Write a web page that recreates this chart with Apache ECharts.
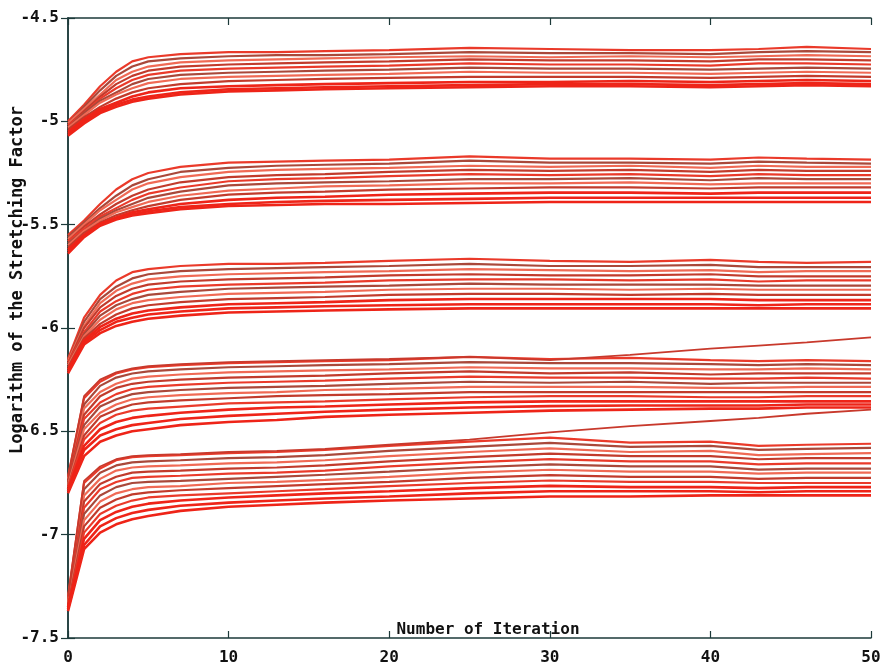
<!DOCTYPE html>
<html>
<head>
<meta charset="utf-8">
<title>Logarithm of the Stretching Factor</title>
<script src="https://cdn.jsdelivr.net/npm/echarts@6/dist/echarts.min.js"></script>
<style>
  html, body { margin: 0; padding: 0; background: #ffffff; }
  #chart { width: 888px; height: 670px; }
</style>
</head>
<body>
<div id="chart"></div>
<script>
// Iteration numbers at which each run was sampled
const iterations = [0, 1, 2, 3, 4, 5, 7, 10, 13, 16, 20, 25, 30, 35, 40, 43, 46, 50];

// Axis ticks
const xTicks = [0, 10, 20, 30, 40, 50];
const yTicks = [-7.5, -7, -6.5, -6, -5.5, -5, -4.5];

// Group 1 (top band)
const group1 = [
  [-5.00,-4.92,-4.83,-4.76,-4.71,-4.69,-4.675,-4.665,-4.665,-4.66,-4.655,-4.645,-4.65,-4.655,-4.655,-4.65,-4.64,-4.65],
  [-5.01,-4.93,-4.85,-4.78,-4.735,-4.71,-4.695,-4.685,-4.68,-4.68,-4.675,-4.665,-4.67,-4.67,-4.675,-4.665,-4.66,-4.665],
  [-5.01,-4.94,-4.87,-4.80,-4.76,-4.735,-4.715,-4.705,-4.70,-4.695,-4.69,-4.685,-4.69,-4.685,-4.69,-4.685,-4.68,-4.685],
  [-5.02,-4.95,-4.88,-4.82,-4.78,-4.755,-4.735,-4.725,-4.72,-4.715,-4.71,-4.70,-4.705,-4.705,-4.71,-4.70,-4.70,-4.705],
  [-5.02,-4.96,-4.89,-4.84,-4.80,-4.775,-4.755,-4.745,-4.74,-4.735,-4.73,-4.72,-4.725,-4.725,-4.73,-4.72,-4.72,-4.725],
  [-5.03,-4.96,-4.90,-4.86,-4.82,-4.795,-4.775,-4.765,-4.76,-4.755,-4.75,-4.74,-4.745,-4.745,-4.75,-4.745,-4.74,-4.745],
  [-5.03,-4.97,-4.91,-4.87,-4.84,-4.815,-4.795,-4.785,-4.78,-4.775,-4.77,-4.76,-4.765,-4.765,-4.77,-4.765,-4.76,-4.765],
  [-5.04,-4.98,-4.93,-4.89,-4.86,-4.84,-4.82,-4.805,-4.80,-4.795,-4.79,-4.785,-4.785,-4.785,-4.79,-4.785,-4.78,-4.785],
  [-5.05,-4.99,-4.94,-4.91,-4.88,-4.86,-4.84,-4.83,-4.825,-4.82,-4.815,-4.81,-4.81,-4.805,-4.81,-4.805,-4.80,-4.805],
  [-5.06,-5.00,-4.95,-4.92,-4.895,-4.88,-4.86,-4.845,-4.84,-4.835,-4.83,-4.825,-4.82,-4.82,-4.825,-4.82,-4.815,-4.82],
  [-5.07,-5.01,-4.96,-4.93,-4.905,-4.89,-4.87,-4.855,-4.85,-4.845,-4.84,-4.835,-4.83,-4.83,-4.835,-4.83,-4.825,-4.83]
];

// Group 2
const group2 = [
  [-5.55,-5.48,-5.40,-5.33,-5.28,-5.25,-5.22,-5.20,-5.195,-5.19,-5.185,-5.17,-5.18,-5.18,-5.185,-5.175,-5.18,-5.185],
  [-5.56,-5.49,-5.42,-5.36,-5.31,-5.28,-5.245,-5.225,-5.215,-5.21,-5.205,-5.19,-5.20,-5.20,-5.205,-5.195,-5.20,-5.205],
  [-5.57,-5.50,-5.43,-5.38,-5.33,-5.30,-5.27,-5.245,-5.235,-5.23,-5.225,-5.215,-5.22,-5.215,-5.225,-5.215,-5.22,-5.22],
  [-5.58,-5.51,-5.45,-5.40,-5.36,-5.33,-5.295,-5.27,-5.26,-5.255,-5.245,-5.235,-5.24,-5.235,-5.245,-5.235,-5.24,-5.24],
  [-5.58,-5.52,-5.46,-5.42,-5.38,-5.35,-5.32,-5.29,-5.28,-5.275,-5.265,-5.255,-5.26,-5.255,-5.265,-5.255,-5.26,-5.26],
  [-5.59,-5.53,-5.47,-5.43,-5.40,-5.37,-5.34,-5.31,-5.30,-5.295,-5.29,-5.28,-5.28,-5.275,-5.285,-5.275,-5.28,-5.28],
  [-5.60,-5.53,-5.48,-5.44,-5.415,-5.39,-5.36,-5.335,-5.325,-5.315,-5.31,-5.30,-5.30,-5.295,-5.305,-5.30,-5.30,-5.30],
  [-5.61,-5.54,-5.49,-5.455,-5.43,-5.41,-5.38,-5.355,-5.345,-5.34,-5.33,-5.325,-5.32,-5.32,-5.325,-5.32,-5.32,-5.32],
  [-5.62,-5.55,-5.495,-5.465,-5.44,-5.425,-5.40,-5.38,-5.37,-5.365,-5.355,-5.35,-5.345,-5.345,-5.35,-5.345,-5.345,-5.345],
  [-5.63,-5.555,-5.50,-5.47,-5.45,-5.435,-5.415,-5.40,-5.39,-5.385,-5.38,-5.375,-5.37,-5.37,-5.37,-5.37,-5.37,-5.37],
  [-5.64,-5.56,-5.505,-5.475,-5.455,-5.445,-5.425,-5.41,-5.405,-5.40,-5.40,-5.395,-5.39,-5.39,-5.39,-5.39,-5.39,-5.39]
];

// Group 3
const group3 = [
  [-6.15,-5.95,-5.84,-5.77,-5.73,-5.715,-5.70,-5.69,-5.69,-5.685,-5.675,-5.665,-5.675,-5.68,-5.67,-5.68,-5.685,-5.68],
  [-6.16,-5.97,-5.86,-5.80,-5.76,-5.74,-5.725,-5.715,-5.71,-5.705,-5.70,-5.69,-5.70,-5.70,-5.695,-5.705,-5.705,-5.705],
  [-6.16,-5.99,-5.88,-5.82,-5.785,-5.765,-5.75,-5.74,-5.735,-5.73,-5.725,-5.715,-5.72,-5.725,-5.72,-5.73,-5.725,-5.725],
  [-6.17,-6.00,-5.90,-5.845,-5.81,-5.79,-5.775,-5.765,-5.76,-5.755,-5.745,-5.74,-5.745,-5.745,-5.74,-5.75,-5.75,-5.75],
  [-6.17,-6.02,-5.92,-5.87,-5.835,-5.815,-5.80,-5.79,-5.785,-5.78,-5.77,-5.765,-5.765,-5.77,-5.765,-5.775,-5.77,-5.77],
  [-6.18,-6.03,-5.94,-5.89,-5.86,-5.84,-5.825,-5.81,-5.805,-5.80,-5.795,-5.785,-5.79,-5.79,-5.79,-5.795,-5.795,-5.795],
  [-6.18,-6.04,-5.96,-5.91,-5.88,-5.865,-5.85,-5.835,-5.83,-5.825,-5.815,-5.81,-5.81,-5.815,-5.81,-5.815,-5.815,-5.815],
  [-6.19,-6.05,-5.98,-5.935,-5.905,-5.89,-5.875,-5.86,-5.855,-5.85,-5.84,-5.835,-5.835,-5.84,-5.835,-5.84,-5.84,-5.84],
  [-6.20,-6.06,-5.995,-5.955,-5.93,-5.915,-5.90,-5.885,-5.88,-5.875,-5.865,-5.86,-5.86,-5.86,-5.86,-5.865,-5.865,-5.865],
  [-6.21,-6.07,-6.01,-5.97,-5.95,-5.935,-5.92,-5.905,-5.90,-5.895,-5.89,-5.885,-5.885,-5.885,-5.885,-5.89,-5.885,-5.885],
  [-6.22,-6.08,-6.025,-5.99,-5.97,-5.955,-5.94,-5.925,-5.92,-5.915,-5.91,-5.905,-5.905,-5.905,-5.905,-5.905,-5.905,-5.905]
];

// Group 4
const group4 = [
  [-6.72,-6.34,-6.26,-6.22,-6.20,-6.19,-6.18,-6.17,-6.165,-6.16,-6.155,-6.14,-6.15,-6.145,-6.155,-6.16,-6.155,-6.16],
  [-6.73,-6.37,-6.28,-6.24,-6.22,-6.21,-6.20,-6.19,-6.185,-6.18,-6.175,-6.165,-6.17,-6.17,-6.175,-6.18,-6.175,-6.18],
  [-6.73,-6.39,-6.31,-6.27,-6.245,-6.235,-6.225,-6.215,-6.21,-6.205,-6.20,-6.19,-6.195,-6.195,-6.20,-6.20,-6.195,-6.20],
  [-6.74,-6.42,-6.33,-6.29,-6.27,-6.26,-6.25,-6.24,-6.235,-6.23,-6.22,-6.21,-6.22,-6.215,-6.225,-6.22,-6.22,-6.22],
  [-6.75,-6.44,-6.36,-6.32,-6.295,-6.285,-6.275,-6.265,-6.26,-6.255,-6.245,-6.235,-6.24,-6.24,-6.245,-6.245,-6.24,-6.245],
  [-6.75,-6.47,-6.38,-6.345,-6.32,-6.31,-6.30,-6.29,-6.285,-6.28,-6.27,-6.26,-6.265,-6.26,-6.27,-6.265,-6.265,-6.265],
  [-6.76,-6.49,-6.41,-6.37,-6.345,-6.335,-6.325,-6.315,-6.31,-6.30,-6.295,-6.285,-6.285,-6.285,-6.29,-6.29,-6.285,-6.285],
  [-6.77,-6.52,-6.43,-6.395,-6.37,-6.36,-6.35,-6.34,-6.33,-6.325,-6.32,-6.31,-6.31,-6.31,-6.31,-6.31,-6.31,-6.31],
  [-6.77,-6.54,-6.46,-6.42,-6.40,-6.39,-6.38,-6.365,-6.36,-6.355,-6.345,-6.335,-6.33,-6.33,-6.335,-6.335,-6.33,-6.33],
  [-6.78,-6.57,-6.49,-6.455,-6.435,-6.425,-6.41,-6.395,-6.385,-6.38,-6.37,-6.36,-6.355,-6.355,-6.355,-6.355,-6.355,-6.355],
  [-6.79,-6.59,-6.52,-6.49,-6.47,-6.46,-6.44,-6.425,-6.415,-6.405,-6.395,-6.385,-6.378,-6.375,-6.375,-6.375,-6.37,-6.37],
  [-6.80,-6.62,-6.55,-6.52,-6.50,-6.49,-6.47,-6.455,-6.445,-6.43,-6.42,-6.41,-6.40,-6.395,-6.39,-6.39,-6.385,-6.385]
];

// Group 5 (bottom band)
const group5 = [
  [-7.30,-6.75,-6.68,-6.64,-6.625,-6.62,-6.615,-6.605,-6.60,-6.59,-6.57,-6.55,-6.53,-6.555,-6.55,-6.57,-6.565,-6.56],
  [-7.31,-6.78,-6.70,-6.665,-6.65,-6.645,-6.64,-6.63,-6.625,-6.615,-6.595,-6.575,-6.556,-6.575,-6.57,-6.59,-6.585,-6.58],
  [-7.31,-6.81,-6.73,-6.69,-6.675,-6.67,-6.665,-6.655,-6.65,-6.64,-6.62,-6.60,-6.582,-6.60,-6.595,-6.615,-6.61,-6.605],
  [-7.32,-6.84,-6.755,-6.72,-6.70,-6.695,-6.69,-6.68,-6.675,-6.665,-6.645,-6.625,-6.608,-6.62,-6.62,-6.635,-6.63,-6.63],
  [-7.32,-6.87,-6.78,-6.745,-6.725,-6.72,-6.715,-6.705,-6.70,-6.69,-6.67,-6.65,-6.634,-6.645,-6.645,-6.66,-6.655,-6.655],
  [-7.33,-6.90,-6.81,-6.77,-6.75,-6.745,-6.74,-6.73,-6.72,-6.71,-6.695,-6.675,-6.66,-6.67,-6.67,-6.685,-6.68,-6.68],
  [-7.33,-6.93,-6.84,-6.80,-6.78,-6.77,-6.765,-6.75,-6.745,-6.735,-6.72,-6.70,-6.686,-6.695,-6.695,-6.705,-6.70,-6.70],
  [-7.34,-6.96,-6.87,-6.83,-6.805,-6.795,-6.785,-6.775,-6.765,-6.755,-6.745,-6.725,-6.712,-6.72,-6.72,-6.73,-6.725,-6.725],
  [-7.35,-6.99,-6.90,-6.86,-6.835,-6.82,-6.81,-6.80,-6.79,-6.78,-6.765,-6.75,-6.738,-6.745,-6.745,-6.75,-6.75,-6.75],
  [-7.35,-7.02,-6.93,-6.89,-6.865,-6.85,-6.835,-6.82,-6.81,-6.80,-6.79,-6.775,-6.764,-6.77,-6.77,-6.775,-6.77,-6.77],
  [-7.36,-7.05,-6.96,-6.92,-6.895,-6.88,-6.86,-6.845,-6.835,-6.825,-6.815,-6.80,-6.79,-6.79,-6.79,-6.795,-6.79,-6.79],
  [-7.37,-7.07,-6.99,-6.95,-6.925,-6.91,-6.885,-6.865,-6.855,-6.845,-6.835,-6.825,-6.815,-6.815,-6.81,-6.81,-6.81,-6.81]
];

// Two runs that drift away from their bands late in the iteration
const driftUpper = [-6.72,-6.33,-6.25,-6.215,-6.195,-6.185,-6.175,-6.165,-6.16,-6.155,-6.15,-6.14,-6.155,-6.13,-6.10,-6.085,-6.07,-6.045];
const driftLower = [-7.30,-6.74,-6.67,-6.635,-6.62,-6.615,-6.61,-6.60,-6.595,-6.585,-6.565,-6.54,-6.505,-6.475,-6.45,-6.435,-6.415,-6.395];

const groups = [group1, group2, group3, group4, group5];

const FONT = '"DejaVu Sans Mono", monospace';
const AXIS_COLOR = '#1d3a3a';
const LINE_COLORS = ['#ea3a2a', '#a9483a', '#f06a55', '#c13b2c'];

function toPairs(values) {
  return values.map((v, i) => [iterations[i], v]);
}

const series = [];
groups.forEach(group => {
  group.forEach((line, i) => {
    const nearBottom = i >= group.length - 3;
    series.push({
      type: 'line',
      data: toPairs(line),
      showSymbol: false,
      silent: true,
      lineStyle: {
        width: nearBottom ? 2.6 : 2.2,
        color: nearBottom ? '#ee2418' : LINE_COLORS[i % LINE_COLORS.length]
      }
    });
  });
});
[driftUpper, driftLower].forEach(line => {
  series.push({
    type: 'line',
    data: toPairs(line),
    showSymbol: false,
    silent: true,
    lineStyle: { width: 1.8, color: '#c8392c' }
  });
});

const axisLine = { show: true, lineStyle: { color: AXIS_COLOR, width: 1.5 } };
const axisTick = { show: true, inside: true, length: 7, lineStyle: { color: AXIS_COLOR, width: 1.2 } };
const labelStyle = { fontFamily: FONT, fontWeight: 'bold', fontSize: 16, color: '#111111' };

const chart = echarts.init(document.getElementById('chart'), null, { renderer: 'canvas' });
chart.setOption({
  backgroundColor: '#ffffff',
  animation: false,
  grid: { left: 68, right: 17, top: 18, bottom: 32, containLabel: false },
  xAxis: [
    {
      type: 'value', min: xTicks[0], max: xTicks[xTicks.length - 1], interval: 10,
      position: 'bottom',
      axisLine, axisTick,
      axisLabel: Object.assign({ margin: 12 }, labelStyle),
      splitLine: { show: false }
    },
    {
      type: 'value', min: xTicks[0], max: xTicks[xTicks.length - 1], interval: 10,
      position: 'top',
      axisLine, axisTick,
      axisLabel: { show: false },
      splitLine: { show: false }
    }
  ],
  yAxis: [
    {
      type: 'value', min: yTicks[0], max: yTicks[yTicks.length - 1], interval: 0.5,
      position: 'left',
      axisLine, axisTick,
      axisLabel: Object.assign({ margin: 9 }, labelStyle),
      splitLine: { show: false }
    },
    {
      type: 'value', min: yTicks[0], max: yTicks[yTicks.length - 1], interval: 0.5,
      position: 'right',
      axisLine, axisTick,
      axisLabel: { show: false },
      splitLine: { show: false }
    }
  ],
  graphic: [
    {
      type: 'text',
      x: 488, y: 630,
      z: 100,
      style: {
        text: 'Number of Iteration',
        align: 'center', verticalAlign: 'middle',
        font: 'bold 16px ' + FONT,
        fill: '#111111'
      }
    },
    {
      type: 'text',
      x: 18, y: 280,
      rotation: Math.PI / 2,
      z: 100,
      style: {
        text: 'Logarithm of the Stretching Factor',
        align: 'center', verticalAlign: 'middle',
        font: 'bold 17px ' + FONT,
        fill: '#111111'
      }
    }
  ],
  series
});
</script>
</body>
</html>
